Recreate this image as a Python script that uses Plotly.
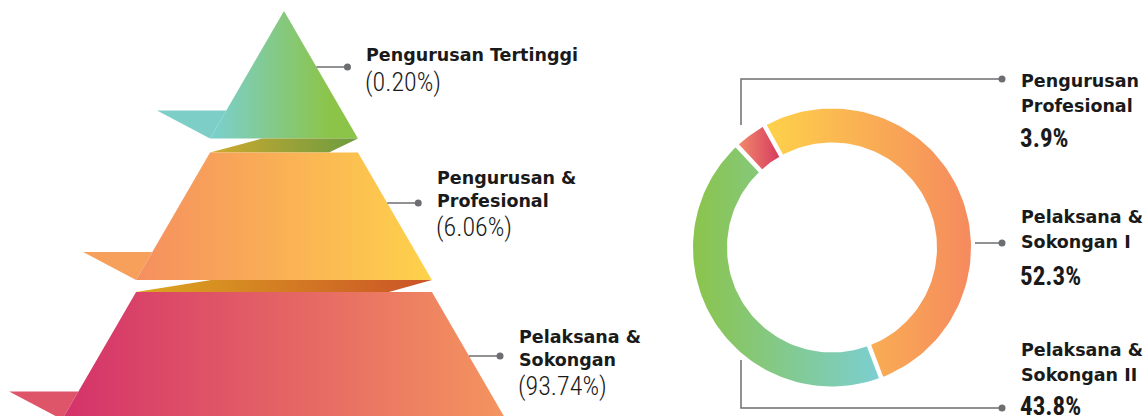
import numpy as np
import plotly.graph_objects as go

# ---------------- data ----------------
pyramid_labels = ["Pengurusan Tertinggi", "Pengurusan &<br>Profesional", "Pelaksana &<br>Sokongan"]
pyramid_values = [0.20, 6.06, 93.74]
donut_labels = ["Pengurusan<br>Profesional", "Pelaksana &<br>Sokongan I", "Pelaksana &<br>Sokongan II"]
donut_values = [3.9, 52.3, 43.8]

# ---------------- styles / layout ----------------
W, H = 1147, 416
TXT = "#1a1a1a"
LINE = "#6d6e71"
BOLD_FONT = "DejaVu Sans"
BOLD_SIZE = 17.5
NUM_FONT = "Roboto Condensed"

# pyramid geometry
PX, PY = 284, 11
SLOPE = 0.58
LH = 127.5
SHIFT = [0, 14, 26]
BAND_OFF = [(52, 29), (75, 43)]
FLAP_H, FLAP_DX = 28, 53
LAYER_GRAD = [("#7bcfcb", "#8cc449"), ("#f58f5f", "#fed24b"), ("#d4326a", "#f4955f")]
GRAD_RANGE = [(215, 330), None, None]
FLAP_COL = ["#7ccec6", "#f6a05c", "#de5468"]
BAND_GRAD = [("#cfa92e", "#6b9c40"), ("#dba61f", "#cb5327")]
PYR_DOT_Y = [67, 203, 356]
PYR_DOT_DX = 31
PYR_TXT_Y0 = [55, 178, 337]

# donut geometry
CX, CY = 832, 247.5
R_OUT, R_IN = 139, 105
START = 133
DONUT_GRAD = [("#f28c6c", "#d5385f"), ("#fed24a", "#f58a5e"), ("#8bc44b", "#7bcfd2")]
DON_LEADERS = [[(741, 125), (741, 79), (1002, 79)],
               [(975, 243), (1002, 243)],
               [(741, 360), (741, 408), (1002, 408)]]
DON_TXT_X = 1019
DON_TXT_Y0 = [81, 217, 350]
DON_PCT_DY = [33, 35, 32]

fig = go.Figure()


def poly(xs, ys, c0, c1=None, start=None, stop=None):
    xs = list(xs) + [xs[0]]
    ys = list(ys) + [ys[0]]
    kw = dict(x=xs, y=ys, mode="lines", fill="toself", line=dict(width=0),
              hoverinfo="skip", showlegend=False)
    if c1 is None:
        kw["fillcolor"] = c0
    else:
        g = dict(type="horizontal", colorscale=[[0, c0], [1, c1]])
        if start is not None:
            g["start"] = start
            g["stop"] = stop
        kw["fillgradient"] = g
    fig.add_trace(go.Scatter(**kw))


def edge_x(i, y, side=1):
    u = y - PY - SHIFT[i]
    return PX + side * SLOPE * u


annotations = []
# ---------------- pyramid ----------------
for i, (lab, val) in enumerate(zip(pyramid_labels, pyramid_values)):
    u0, u1 = i * LH, (i + 1) * LH
    yt, yb = PY + u0 + SHIFT[i], PY + u1 + SHIFT[i]
    ht, hb = SLOPE * u0, SLOPE * u1
    # flap
    poly([PX - hb - FLAP_DX, PX - hb + SLOPE * FLAP_H, PX - hb],
         [yb - FLAP_H, yb - FLAP_H, yb], FLAP_COL[i])
    # layer
    gr = GRAD_RANGE[i]
    poly([PX - ht, PX + ht, PX + hb, PX - hb], [yt, yt, yb, yb],
         LAYER_GRAD[i][0], LAYER_GRAD[i][1],
         gr[0] if gr else None, gr[1] if gr else None)
    # band to next layer
    if i < len(pyramid_values) - 1:
        ytn = PY + u1 + SHIFT[i + 1]
        oL, oR = BAND_OFF[i]
        poly([PX - hb, PX - hb + oL, PX + hb, PX + hb - oR], [ytn, yb, yb, ytn],
             BAND_GRAD[i][0], BAND_GRAD[i][1])
    # leader + dot
    dy = PYR_DOT_Y[i]
    ex = edge_x(i, dy)
    dx = ex + PYR_DOT_DX
    fig.add_trace(go.Scatter(x=[ex, dx], y=[dy, dy], mode="lines",
                             line=dict(color=LINE, width=1.5), hoverinfo="skip", showlegend=False))
    fig.add_trace(go.Scatter(x=[dx], y=[dy], mode="markers",
                             marker=dict(color=LINE, size=7), hoverinfo="skip", showlegend=False))
    tx = dx + 17
    y = PYR_TXT_Y0[i]
    for ln in lab.split("<br>"):
        annotations.append(dict(x=tx, y=y, text="<b>%s</b>" % ln, xref="x", yref="y",
                                xanchor="left", yanchor="middle", showarrow=False,
                                font=dict(family=BOLD_FONT, size=BOLD_SIZE, color=TXT)))
        y += 22.5
    annotations.append(dict(x=tx - 1, y=y + 4, text="(%.2f%%)" % val, xref="x", yref="y",
                            xanchor="left", yanchor="middle", showarrow=False,
                            font=dict(family=NUM_FONT, size=26, color=TXT, weight=300)))

# ---------------- donut ----------------
total = sum(donut_values)
cum = 0.0
bounds = []
for k, v in enumerate(donut_values):
    a0 = START - cum / total * 360
    a1 = a0 - v / total * 360
    cum += v
    bounds.append(a0)
    t = np.radians(np.linspace(a0, a1, 90))
    xs = np.concatenate([CX + R_OUT * np.cos(t), CX + R_IN * np.cos(t[::-1])])
    ys = np.concatenate([CY - R_OUT * np.sin(t), CY - R_IN * np.sin(t[::-1])])
    poly(xs, ys, DONUT_GRAD[k][0], DONUT_GRAD[k][1])
for a in bounds:
    r = np.radians(a)
    fig.add_trace(go.Scatter(x=[CX + (R_IN - 3) * np.cos(r), CX + (R_OUT + 3) * np.cos(r)],
                             y=[CY - (R_IN - 3) * np.sin(r), CY - (R_OUT + 3) * np.sin(r)],
                             mode="lines", line=dict(color="white", width=4.5),
                             hoverinfo="skip", showlegend=False))

for k, (lab, val) in enumerate(zip(donut_labels, donut_values)):
    pts = DON_LEADERS[k]
    fig.add_trace(go.Scatter(x=[p[0] for p in pts], y=[p[1] for p in pts], mode="lines",
                             line=dict(color=LINE, width=1.5), hoverinfo="skip", showlegend=False))
    fig.add_trace(go.Scatter(x=[pts[-1][0]], y=[pts[-1][1]], mode="markers",
                             marker=dict(color=LINE, size=7), hoverinfo="skip", showlegend=False))
    y = DON_TXT_Y0[k]
    for ln in lab.split("<br>"):
        annotations.append(dict(x=DON_TXT_X, y=y, text="<b>%s</b>" % ln, xref="x", yref="y",
                                xanchor="left", yanchor="middle", showarrow=False,
                                font=dict(family=BOLD_FONT, size=BOLD_SIZE, color=TXT)))
        y += 24.5
    annotations.append(dict(x=DON_TXT_X - 1, y=y - 24.5 + DON_PCT_DY[k], text="%.1f%%" % val,
                            xref="x", yref="y", xanchor="left", yanchor="middle", showarrow=False,
                            font=dict(family=NUM_FONT, size=25, color=TXT, weight=700)))

fig.update_layout(
    width=W, height=H, autosize=False,
    margin=dict(l=0, r=0, t=0, b=0),
    paper_bgcolor="white", plot_bgcolor="white",
    xaxis=dict(range=[0, W], visible=False, fixedrange=True),
    yaxis=dict(range=[H, 0], visible=False, fixedrange=True),
    showlegend=False,
    annotations=annotations,
)
fig.write_html("out.html", config={"displayModeBar": False},
               post_script="document.body.style.margin='0px';")
